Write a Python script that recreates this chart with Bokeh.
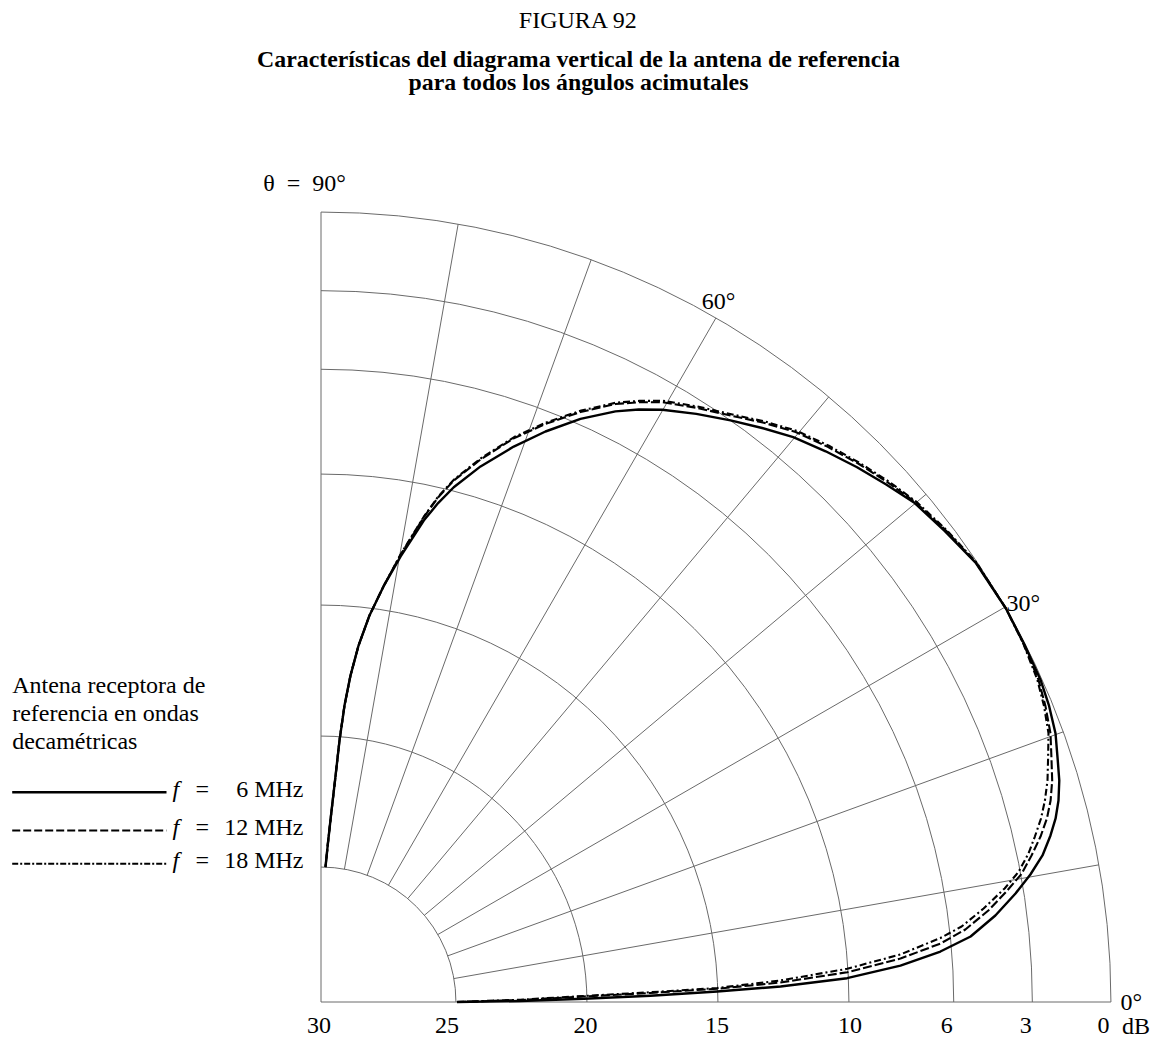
import math
from bokeh.plotting import figure
from bokeh.models import Range1d
from bokeh.core.properties import value
from bokeh.embed import file_html
from bokeh.resources import INLINE

# ---------------- data ----------------
DB_TICKS = [30, 25, 20, 15, 10, 6, 3, 0]          # radial scale labels (dB)
GRID_ARCS_DB = [25, 20, 15, 10, 6, 3, 0]          # circular grid lines (dB)
SPOKE_ANGLES = [10, 20, 30, 40, 50, 60, 70, 80]   # radial grid lines (deg)
FREQS_MHZ = [6, 12, 18]

# f = 6 MHz (solid): elevation angle (deg) / relative gain (dB below maximum)
ANG_6 = [0.0, 0.29, 0.70, 1.08, 1.52, 1.93, 2.59, 3.60, 4.66, 5.76, 7.31, 8.88, 10.19, 11.48,
         12.86, 14.03, 15.28, 16.70, 18.36, 20.08, 22.13, 24.13, 26.94, 29.9,
         33.87, 37.04, 40.04, 42.48, 44.93, 47.50, 50.10, 52.46, 54.85, 57.46,
         60.05, 61.79, 63.50, 66.01, 68.52, 70.86, 73.41, 75.54, 76.79, 77.95,
         79.88, 81.45, 82.85, 83.99, 84.84, 85.47, 85.95, 86.38, 86.93, 87.49, 88.09]
DB_6 = [24.96, 22.54, 20.12, 17.57, 15.02, 12.60, 10.05, 7.99, 6.43, 5.23, 4.20, 3.32, 2.64, 2.05,
        1.59, 1.25, 0.97, 0.73, 0.53, 0.30, 0.15, 0.06, 0.03, 0.00,
        0.06, 0.32, 0.55, 0.90, 1.25, 1.64, 2.05, 2.52, 3.00, 3.52,
        4.06, 4.49, 4.96, 5.79, 6.75, 7.71, 8.82, 9.86, 10.59, 11.36,
        12.88, 14.11, 15.28, 16.47, 17.64, 18.80, 20.14, 21.68, 23.02, 24.06, 25.00]

# f = 12 MHz (dashed)
ANG_12 = [0.0, 0.57, 1.20, 1.57, 1.91, 2.43, 3.24, 4.29, 5.39, 6.42, 7.81, 9.16, 10.36, 11.65,
          12.95, 14.19, 15.44, 16.85, 18.51, 20.21, 22.23, 24.19, 26.97, 29.9,
          33.87, 37.04, 40.05, 42.5, 45.00, 47.6, 50.22, 52.6, 55.08, 57.7,
          60.37, 62.1, 63.78, 66.26, 68.77, 71.12, 73.62, 75.71, 76.94, 78.03,
          79.92, 81.45, 82.85, 83.99, 84.84, 85.47, 85.95, 86.38, 86.93, 87.49, 88.09]
DB_12 = [24.96, 22.54, 20.12, 17.57, 15.02, 12.60, 10.03, 7.97, 6.40, 5.40, 4.44, 3.65, 2.97, 2.46,
         1.97, 1.57, 1.26, 0.99, 0.75, 0.48, 0.28, 0.13, 0.05, 0.00,
         0.05, 0.27, 0.51, 0.80, 1.11, 1.46, 1.84, 2.32, 2.85, 3.32,
         3.81, 4.25, 4.71, 5.55, 6.48, 7.41, 8.57, 9.61, 10.38, 11.24,
         12.82, 14.11, 15.28, 16.47, 17.64, 18.80, 20.14, 21.68, 23.02, 24.06, 25.00]

# f = 18 MHz (dash-dot)
ANG_18 = [0.0, 0.66, 1.31, 1.70, 2.02, 2.68, 3.61, 4.69, 5.90, 6.72, 8.03, 9.43, 10.56, 11.85,
          13.05, 14.30, 15.55, 16.96, 18.59, 20.27, 22.27, 24.22, 26.97, 29.9,
          33.87, 37.04, 40.05, 42.5, 45.00, 47.6, 50.22, 52.6, 55.08, 57.7,
          60.37, 62.1, 63.78, 66.26, 68.77, 71.12, 73.62, 75.71, 76.94, 78.03,
          79.92, 81.45, 82.85, 83.99, 84.84, 85.47, 85.95, 86.38, 86.93, 87.49, 88.09]
DB_18 = [24.96, 22.54, 20.12, 17.57, 15.02, 12.59, 10.03, 7.96, 6.38, 5.53, 4.61, 3.70, 3.07, 2.56,
         2.18, 1.79, 1.47, 1.16, 0.87, 0.55, 0.33, 0.17, 0.06, 0.00,
         0.03, 0.24, 0.47, 0.75, 1.06, 1.40, 1.78, 2.26, 2.79, 3.26,
         3.75, 4.19, 4.65, 5.49, 6.42, 7.36, 8.52, 9.57, 10.34, 11.21,
         12.80, 14.11, 15.28, 16.47, 17.64, 18.80, 20.14, 21.68, 23.02, 24.06, 25.00]

TITLE_NUM = "FIGURA 92"
TITLE_LINES = ["Características del diagrama vertical de la antena de referencia",
               "para todos los ángulos acimutales"]
LEGEND_TITLE = ["Antena receptora de", "referencia en ondas", "decamétricas"]

# ---------------- geometry ----------------
CENTRE_DB = 30.15          # dB value at the pole of the diagram
K = 26.2                   # pixels per dB
W, H = 1155, 1041
OX, OY = 320.5, 1001.5     # pole position inside the canvas (px from top-left)
X0 = -OX / K
X1 = X0 + W / K
Y0 = -(H - OY) / K
Y1 = Y0 + H / K

FONT = "Liberation Serif"
GRID = "#6a6a6a"
FS = 24
TEXT_DY = -8.7             # compensation of the svg baseline placement


def rad(db):
    return CENTRE_DB - db


def pol(deg, db):
    r = rad(db)
    a = math.radians(deg)
    return r * math.cos(a), r * math.sin(a)


def page(X, Y):
    """canvas pixel -> data coordinates (used only for text / legend placement)"""
    return (X - OX) / K, (OY - Y) / K


p = figure(width=W, height=H, x_range=Range1d(X0, X1), y_range=Range1d(Y0, Y1),
           output_backend="svg", toolbar_location=None, min_border=0,
           x_axis_type=None, y_axis_type=None, title=None)
p.outline_line_color = None
p.background_fill_color = "white"
p.border_fill_color = "white"


def txt(xs, ys, texts, size=FS, align="left", style="normal", xoff=0, yoff=0):
    p.text(x=xs, y=ys, text=texts, text_font=value(FONT), text_font_size=value(f"{size}px"),
           text_align=align, text_baseline="alphabetic", text_font_style=style,
           text_color="black", x_offset=xoff, y_offset=yoff + TEXT_DY)


# ---------------- grid ----------------
p.arc(x=0, y=0, radius=[rad(d) for d in GRID_ARCS_DB], start_angle=0, end_angle=math.pi / 2,
      line_color=GRID, line_width=1)
sx0, sy0, sx1, sy1 = [], [], [], []
for a in SPOKE_ANGLES:
    x0, y0 = pol(a, GRID_ARCS_DB[0])
    x1, y1 = pol(a, GRID_ARCS_DB[-1])
    sx0.append(x0); sy0.append(y0); sx1.append(x1); sy1.append(y1)
# the two axes of the quadrant, from the pole
for a in (0, 90):
    x1, y1 = pol(a, GRID_ARCS_DB[-1])
    sx0.append(0); sy0.append(0); sx1.append(x1); sy1.append(y1)
p.segment(x0=sx0, y0=sy0, x1=sx1, y1=sy1, line_color=GRID, line_width=1)

# ---------------- curves ----------------
STYLES = [dict(line_dash="solid", line_width=2.4),
          dict(line_dash="9 3", line_width=2.1),
          dict(line_dash="7 3 2 3", line_width=2.1)]
for angs, dbs, st in zip([ANG_6, ANG_12, ANG_18], [DB_6, DB_12, DB_18], STYLES):
    pts = [pol(a, d) for a, d in zip(angs, dbs)]
    p.line([q[0] for q in pts], [q[1] for q in pts], line_color="black",
           line_join="round", **st)

# ---------------- radial scale labels ----------------
tick_x = [rad(d) for d in DB_TICKS]
tick_off = [-6, -9, -1.5, -1, 1, -7, -6.5, -7.5]
for xv, lab, off in zip(tick_x, DB_TICKS, tick_off):
    txt([xv], [0], [str(lab)], align="center", xoff=off, yoff=32.5)
txt([rad(0)], [0], ["dB"], align="left", xoff=11, yoff=32.5)

# ---------------- angle labels ----------------
x, y = pol(90, 0)
txt([x], [y], ["θ\u00a0\u00a0=\u00a0\u00a090°"], align="left", xoff=-57.8, yoff=-20)
x, y = pol(60, 0)
txt([x], [y], ["60°"], align="center", xoff=2.5, yoff=-8.4)
x, y = pol(30, 0)
txt([x], [y], ["30°"], align="left", xoff=1.4, yoff=4.2)
x, y = pol(0, 0)
txt([x], [y], ["0°"], align="left", xoff=9.6, yoff=8.5)

# ---------------- titles ----------------
tx, ty = page(578, 28.3)
txt([tx], [ty], [TITLE_NUM], align="center")
for i, line in enumerate(TITLE_LINES):
    tx, ty = page(578, 66.7 + 23.4 * i)
    txt([tx], [ty], [line], align="center", style="bold", size=23.8)

# ---------------- legend ----------------
for i, line in enumerate(LEGEND_TITLE):
    lx, ly = page(11.7, 692.7 + 28.3 * i)
    txt([lx], [ly], [line])

LEG_Y = [791.7, 830.0, 863.3]
LEG_DASH = ["solid", "8 3", "6 2 2 2"]
for i, f in enumerate(FREQS_MHZ):
    a0 = page(11.7, LEG_Y[i])
    a1 = page(166, LEG_Y[i])
    p.line([a0[0], a1[0]], [a0[1], a1[1]], line_color="black",
           line_width=2.4 if i == 0 else 2.0, line_dash=LEG_DASH[i])
    bx, by = page(172, LEG_Y[i] + 5.0)
    txt([bx], [by], ["f"], style="italic")
    ex, ey = page(195, LEG_Y[i] + 5.0)
    txt([ex], [ey], ["="])
    mx, my = page(303, LEG_Y[i] + 5.0)
    txt([mx], [my], [f"{f} MHz"], align="right")

open("out.html", "w").write(file_html(p, INLINE))
